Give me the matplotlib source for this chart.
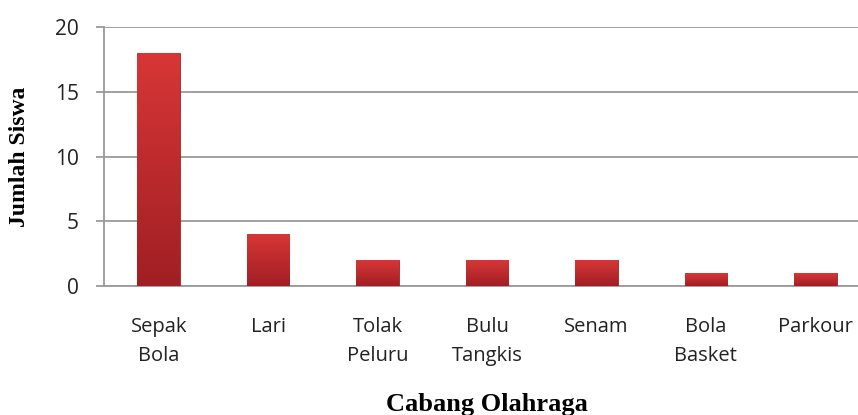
import numpy as np
import matplotlib.pyplot as plt

# Data.
categories = ['Sepak\nBola', 'Lari', 'Tolak\nPeluru', 'Bulu\nTangkis',
              'Senam', 'Bola\nBasket', 'Parkour']
jumlah_siswa = [18, 4, 2, 2, 2, 1, 1]
y_ticks = [0, 5, 10, 15, 20]


def main():
    fig = plt.figure(figsize=(8.58, 4.15), dpi=100)
    ax = fig.add_axes([0.1212, 0.3108, 0.8928, 0.624])

    x_pos = np.arange(len(categories))
    bars = ax.bar(x_pos, jumlah_siswa, width=0.39, color='#c0292c',
                  edgecolor='#a32124', linewidth=0.6, zorder=3)

    # vertical red gradient inside each bar
    grad = np.linspace(0, 1, 256).reshape(-1, 1)
    cmap = plt.matplotlib.colors.LinearSegmentedColormap.from_list(
        'redgrad', ['#a01f24', '#d83636'])
    for bar in bars:
        x0, y0 = bar.get_x(), bar.get_y()
        w, h = bar.get_width(), bar.get_height()
        im = ax.imshow(grad, extent=[x0, x0 + w, y0, y0 + h], origin='lower',
                       aspect='auto', cmap=cmap, zorder=3.5)
        im.set_clip_path(bar)

    ax.set_xlim(-0.5, len(categories) - 0.5)
    ax.set_ylim(0, 20)

    ax.set_yticks(y_ticks)
    ax.set_yticklabels([str(t) for t in y_ticks], family='Open Sans',
                       fontsize=15, color='#222222')
    ax.set_xticks(x_pos)
    ax.set_xticklabels(categories, family='Open Sans', fontsize=14.5,
                       color='#222222', linespacing=1.6)

    ax.grid(axis='y', color='#9a9a9a', linewidth=1.3, zorder=0)
    ax.set_axisbelow(True)

    for side in ('top', 'right'):
        ax.spines[side].set_visible(False)
    for side in ('left', 'bottom'):
        ax.spines[side].set_color('#9a9a9a')
        ax.spines[side].set_linewidth(1.3)

    ax.tick_params(axis='y', length=6, width=1.3, color='#9a9a9a', pad=12)
    ax.tick_params(axis='x', length=0, pad=22)

    ax.set_xlabel('Cabang Olahraga', family='Liberation Serif',
                  fontweight='bold', fontsize=19, labelpad=20)
    ax.set_ylabel('Jumlah Siswa', family='Liberation Serif',
                  fontweight='bold', fontsize=17, labelpad=18)

    fig.savefig('out.png', dpi=100)
    plt.close(fig)


if __name__ == '__main__':
    main()
